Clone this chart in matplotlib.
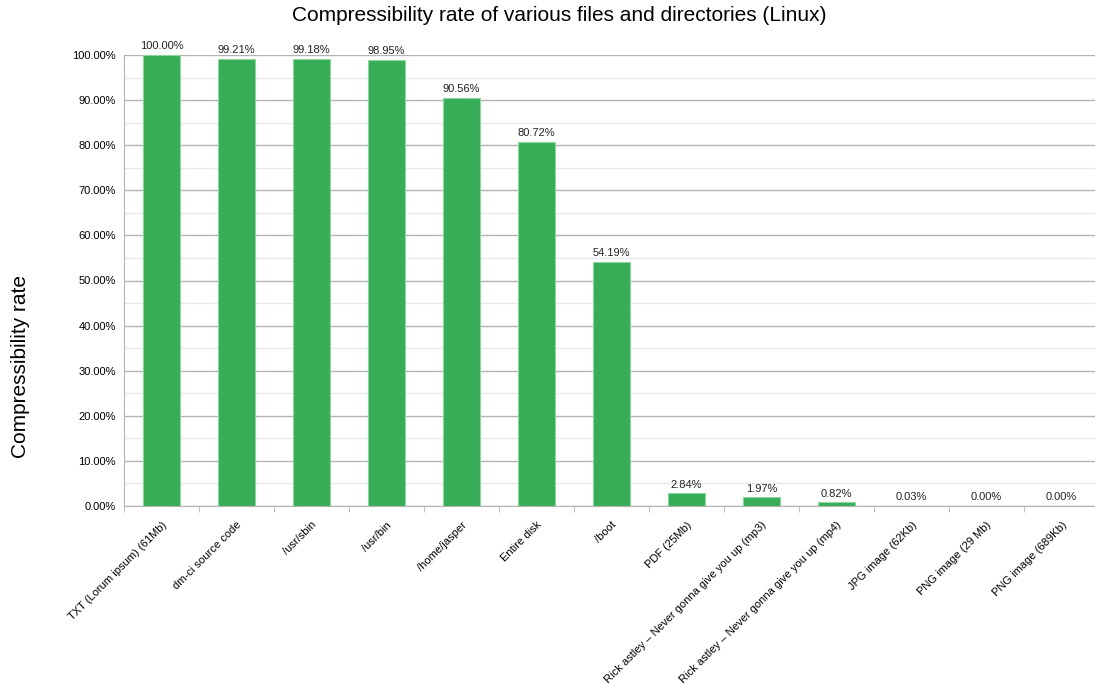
import matplotlib.pyplot as plt
from matplotlib.ticker import MultipleLocator, FixedLocator

plt.rcParams['font.family'] = ['Liberation Sans', 'DejaVu Sans']

labels = ['TXT (Lorum ipsum) (61Mb)', 'dm-ci source code', '/usr/sbin', '/usr/bin',
          '/home/jasper', 'Entire disk', '/boot', 'PDF (25Mb)',
          'Rick astley \u2013 Never gonna give you up (mp3)',
          'Rick astley \u2013 Never gonna give you up (mp4)',
          'JPG image (62Kb)', 'PNG image (29 Mb)', 'PNG image (689Kb)']
rates = [100.00, 99.21, 99.18, 98.95, 90.56, 80.72, 54.19, 2.84, 1.97, 0.82, 0.03, 0.00, 0.00]

fig = plt.figure(figsize=(10.95, 6.84), dpi=100)
ax = fig.add_axes([124 / 1095, 1 - 506 / 684, 975 / 1095, 451 / 684])

x = list(range(len(labels)))
bars = ax.bar(x, rates, width=0.5, color='#37ad58', edgecolor='#8ed6a0', linewidth=0.8, zorder=3)

for xi, r in zip(x, rates):
    ax.text(xi, r + 0.8, '%.2f%%' % r, ha='center', va='bottom', fontsize=8, color='#222222', zorder=4)

ax.set_xlim(-0.5, len(labels) - 0.5)
ax.set_ylim(0, 100)
ax.yaxis.set_minor_locator(MultipleLocator(5))
ax.set_yticks(range(0, 101, 10))
ax.set_yticklabels(['%.2f%%' % v for v in range(0, 101, 10)], fontsize=8)
ax.grid(axis='y', which='major', color='#b3b3b3', linewidth=1, zorder=0)
ax.grid(axis='y', which='minor', color='#e8e8e8', linewidth=1, zorder=0)
ax.tick_params(axis='y', which='both', length=0, pad=6)

ax.set_xticks(x)
ax.set_xticklabels(labels, rotation=45, ha='right', rotation_mode='anchor', fontsize=8)
ax.xaxis.set_minor_locator(FixedLocator([i - 0.5 for i in range(len(labels) + 1)]))
ax.tick_params(axis='x', which='major', length=0, pad=10)
ax.tick_params(axis='x', which='minor', length=4, color='#b3b3b3')

for side in ['top', 'right']:
    ax.spines[side].set_visible(False)
ax.spines['left'].set_color('#b3b3b3')
ax.spines['bottom'].set_color('#b3b3b3')

ax.set_ylabel('Compressibility rate', fontsize=15)
ax.yaxis.set_label_coords(-0.096, 0.31)
fig.suptitle('Compressibility rate of various files and directories (Linux)', fontsize=15, x=559 / 1095, y=1 - 6 / 684, va='top')

plt.savefig('out.png', dpi=100)
